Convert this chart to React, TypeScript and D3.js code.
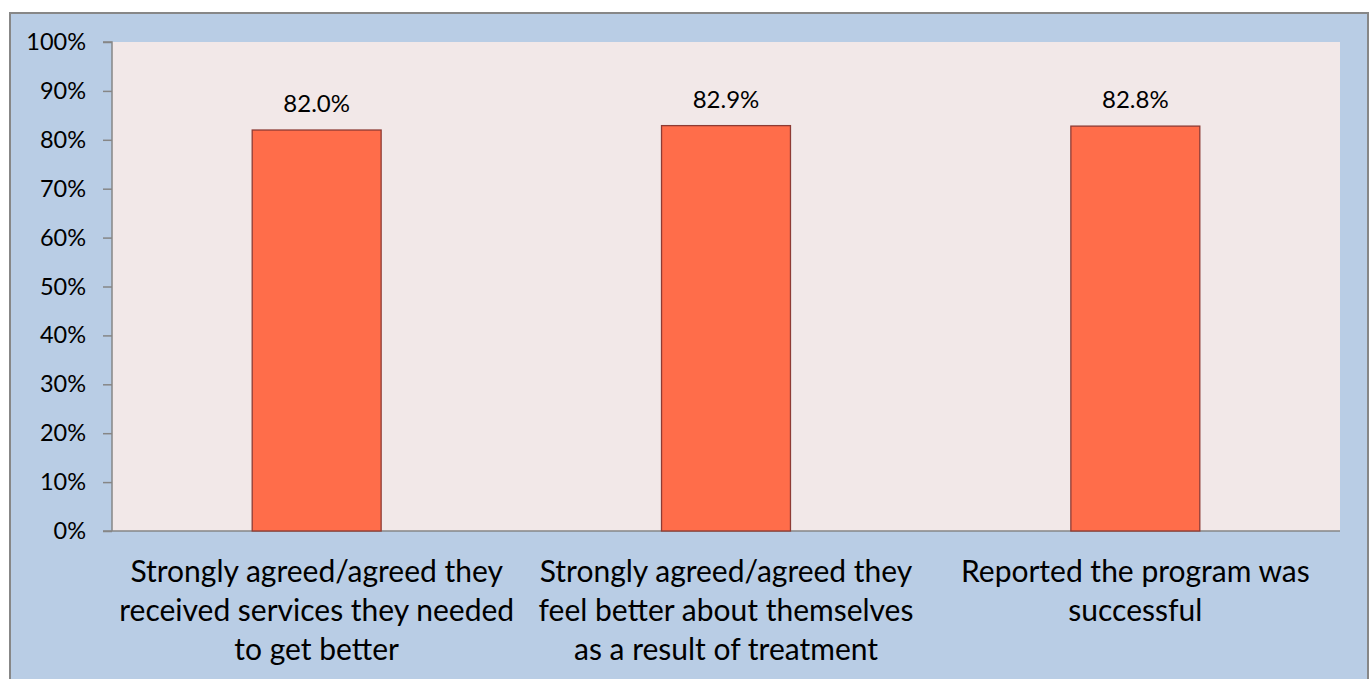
import React, { useEffect, useRef } from "react";
import * as d3 from "d3";

const categories: string[][] = [
  ["Strongly agreed/agreed they", "received services they needed", "to get better"],
  ["Strongly agreed/agreed they", "feel better about themselves", "as a result of treatment"],
  ["Reported the program was", "successful"],
];
const values: number[] = [0.82, 0.829, 0.828];
const valueLabels: string[] = ["82.0%", "82.9%", "82.8%"];
const yTicks: number[] = [0, 0.1, 0.2, 0.3, 0.4, 0.5, 0.6, 0.7, 0.8, 0.9, 1.0];

const W = 1371;
const H = 679;
const FONT = "Lato, 'Open Sans', sans-serif";

export default function App() {
  const ref = useRef<SVGSVGElement>(null);

  useEffect(() => {
    document.body.style.margin = "0";
    const svg = d3.select(ref.current);
    svg.selectAll("*").remove();

    const plot = { left: 112, right: 1340, top: 42, bottom: 531 };

    // outer chart area
    svg
      .append("rect")
      .attr("x", 10)
      .attr("y", 13)
      .attr("width", 1358)
      .attr("height", 700)
      .attr("fill", "#B9CDE5")
      .attr("stroke", "#878787")
      .attr("stroke-width", 2);

    // plot area
    svg
      .append("rect")
      .attr("x", plot.left)
      .attr("y", plot.top)
      .attr("width", plot.right - plot.left)
      .attr("height", plot.bottom - plot.top)
      .attr("fill", "#F2E8E8");

    const idx = values.map((_, i) => String(i));
    const x = d3
      .scaleBand<string>()
      .domain(idx)
      .range([plot.left, plot.right])
      .paddingInner(0.685)
      .paddingOuter(0.3425);

    const y = d3.scaleLinear().domain([0, 1]).range([plot.bottom, plot.top]);

    // y axis
    const yAxis = d3
      .axisLeft(y)
      .tickValues(yTicks)
      .tickFormat((d) => d3.format(".0%")(d as number))
      .tickSize(9)
      .tickPadding(17);
    const ga = svg
      .append("g")
      .attr("transform", `translate(${plot.left},0)`)
      .call(yAxis);
    ga.select(".domain").attr("stroke", "#868686").attr("stroke-width", 1.5).attr("d", `M-9,${plot.top}H0V${plot.bottom}`);
    ga.selectAll(".tick line").attr("stroke", "#868686").attr("stroke-width", 1.5);
    ga.selectAll(".tick text")
      .attr("font-family", FONT)
      .attr("font-size", 23.5)
      .attr("fill", "#000");
    ga.attr("font-family", null).attr("font-size", null);

    // x axis line
    svg
      .append("line")
      .attr("x1", plot.left - 9)
      .attr("x2", plot.right)
      .attr("y1", plot.bottom)
      .attr("y2", plot.bottom)
      .attr("stroke", "#868686")
      .attr("stroke-width", 1.5);

    // bars
    svg
      .append("g")
      .selectAll("rect")
      .data(values)
      .join("rect")
      .attr("x", (_, i) => x(String(i))!)
      .attr("y", (d) => y(d))
      .attr("width", x.bandwidth())
      .attr("height", (d) => y(0) - y(d))
      .attr("fill", "#FF6D4A")
      .attr("stroke", "#8E3B34")
      .attr("stroke-width", 1.3);

    // value labels
    svg
      .append("g")
      .selectAll("text")
      .data(values)
      .join("text")
      .attr("x", (_, i) => x(String(i))! + x.bandwidth() / 2)
      .attr("y", (d) => y(d) - 18)
      .attr("text-anchor", "middle")
      .attr("font-family", FONT)
      .attr("font-size", 24)
      .attr("fill", "#000")
      .text((_, i) => valueLabels[i]);

    // category labels
    const cg = svg.append("g");
    categories.forEach((lines, i) => {
      const cx = x(String(i))! + x.bandwidth() / 2;
      const t = cg
        .append("text")
        .attr("text-anchor", "middle")
        .attr("font-family", FONT)
        .attr("font-size", 30)
        .attr("fill", "#000");
      lines.forEach((ln, j) => {
        t.append("tspan").attr("x", cx).attr("y", 582 + j * 39).text(ln);
      });
    });
  }, []);

  return (
    <svg
      ref={ref}
      width={W}
      height={H}
      style={{ position: "absolute", left: 0, top: 0, display: "block" }}
    />
  );
}
